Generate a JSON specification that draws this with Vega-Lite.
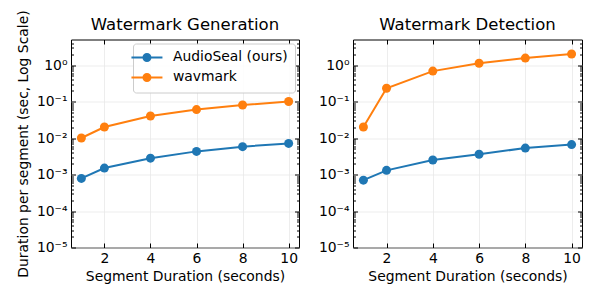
{
  "$schema": "https://vega.github.io/schema/vega-lite/v6.json",
  "padding": {"left": 15, "top": 8.5, "right": 5, "bottom": 5},
  "config": {
    "font": "DejaVu Sans",
    "view": {"stroke": "#000000", "strokeWidth": 1},
    "axis": {
      "labelFont": "DejaVu Sans", "labelFontSize": 13.9, "labelColor": "#000000",
      "titleFont": "DejaVu Sans", "titleFontSize": 13.9, "titleFontWeight": "normal", "titleColor": "#000000",
      "tickColor": "#000000", "tickWidth": 1, "domain": false,
      "gridColor": "#e8e8e8", "gridWidth": 0.8
    },
    "title": {"font": "DejaVu Sans", "fontSize": 16.5, "fontWeight": "normal", "color": "#000000", "frame": "group"},
    "legend": {
      "labelFont": "DejaVu Sans", "labelFontSize": 13.9, "labelColor": "#000000",
      "fillColor": "rgba(255,255,255,0.85)", "strokeColor": "#cccccc", "cornerRadius": 3,
      "padding": 7
    }
  },
  "data": {"values": [
    {"panel": "gen", "method": "AudioSeal (ours)", "x": 1, "y": 0.00078},
    {"panel": "gen", "method": "AudioSeal (ours)", "x": 2, "y": 0.0015},
    {"panel": "gen", "method": "AudioSeal (ours)", "x": 4, "y": 0.0028},
    {"panel": "gen", "method": "AudioSeal (ours)", "x": 6, "y": 0.0043},
    {"panel": "gen", "method": "AudioSeal (ours)", "x": 8, "y": 0.0058},
    {"panel": "gen", "method": "AudioSeal (ours)", "x": 10, "y": 0.0071},
    {"panel": "gen", "method": "wavmark", "x": 1, "y": 0.01},
    {"panel": "gen", "method": "wavmark", "x": 2, "y": 0.02},
    {"panel": "gen", "method": "wavmark", "x": 4, "y": 0.04},
    {"panel": "gen", "method": "wavmark", "x": 6, "y": 0.06},
    {"panel": "gen", "method": "wavmark", "x": 8, "y": 0.08},
    {"panel": "gen", "method": "wavmark", "x": 10, "y": 0.1},
    {"panel": "det", "method": "AudioSeal (ours)", "x": 1, "y": 0.0007},
    {"panel": "det", "method": "AudioSeal (ours)", "x": 2, "y": 0.0013},
    {"panel": "det", "method": "AudioSeal (ours)", "x": 4, "y": 0.0025},
    {"panel": "det", "method": "AudioSeal (ours)", "x": 6, "y": 0.0036},
    {"panel": "det", "method": "AudioSeal (ours)", "x": 8, "y": 0.0053},
    {"panel": "det", "method": "AudioSeal (ours)", "x": 10, "y": 0.0066},
    {"panel": "det", "method": "wavmark", "x": 1, "y": 0.02},
    {"panel": "det", "method": "wavmark", "x": 2, "y": 0.23},
    {"panel": "det", "method": "wavmark", "x": 4, "y": 0.68},
    {"panel": "det", "method": "wavmark", "x": 6, "y": 1.12},
    {"panel": "det", "method": "wavmark", "x": 8, "y": 1.55},
    {"panel": "det", "method": "wavmark", "x": 10, "y": 2.0}
  ]},
  "spacing": 17,
  "resolve": {"scale": {"color": "independent"}},
  "hconcat": [
    {
      "width": 228, "height": 208,
      "title": {"text": "Watermark Generation", "offset": -23.5},
      "transform": [{"filter": "datum.panel == 'gen'"}],
      "resolve": {"axis": {"x": "independent", "y": "independent"}},
      "layer": [
        {
          "mark": {"type": "line", "strokeWidth": 2, "point": {"filled": true, "size": 81, "opacity": 1}},
          "encoding": {
            "x": {"field": "x", "type": "quantitative",
                  "scale": {"domain": [0.55, 10.45], "nice": false, "zero": false},
                  "axis": {"orient": "bottom", "title": "Segment Duration (seconds)", "values": [2, 4, 6, 8, 10], "tickSize": -4.5, "labelPadding": 8.5, "titlePadding": 4.5, "grid": true}},
            "y": {"field": "y", "type": "quantitative",
                  "scale": {"type": "log", "domain": [0.00001, 5], "nice": false},
                  "axis": {"orient": "left", "title": "Duration per segment (sec, Log Scale)",
                           "values": [0.00001, 0.00002, 0.00003, 0.00004, 0.00005, 0.00006, 0.00007, 0.00008, 0.00009, 0.0001, 0.0002, 0.0003, 0.0004, 0.0005, 0.0006, 0.0007, 0.0008, 0.0009, 0.001, 0.002, 0.003, 0.004, 0.005, 0.006, 0.007, 0.008, 0.009, 0.01, 0.02, 0.03, 0.04, 0.05, 0.06, 0.07, 0.08, 0.09, 0.1, 0.2, 0.3, 0.4, 0.5, 0.6, 0.7, 0.8, 0.9, 1, 2, 3, 4],
                           "labelExpr": "datum.value == 1 ? '10⁰' : datum.value == 0.1 ? '10⁻¹' : datum.value == 0.01 ? '10⁻²' : datum.value == 0.001 ? '10⁻³' : datum.value == 0.0001 ? '10⁻⁴' : datum.value == 0.00001 ? '10⁻⁵' : ''",
                           "labelOverlap": false, "labelBound": false,
                           "tickSize": {"condition": {"test": "indexof([1, 0.1, 0.01, 0.001, 0.0001, 0.00001], datum.value) >= 0", "value": -4.5}, "value": -2.5},
                           "gridOpacity": {"condition": {"test": "indexof([1, 0.1, 0.01, 0.001, 0.0001, 0.00001], datum.value) >= 0", "value": 1}, "value": 0},
                           "labelPadding": 8.5, "titlePadding": 6, "grid": true}},
            "color": {"field": "method", "type": "nominal",
                      "scale": {"domain": ["AudioSeal (ours)", "wavmark"], "range": ["#1f77b4", "#ff7f0e"]},
                      "legend": {"title": null, "orient": "top-right", "offset": 4,
                                 "symbolType": "M-3.1,0L3.1,0M-0.7,0A0.7,0.7,0,1,1,0.7,0A0.7,0.7,0,1,1,-0.7,0Z",
                                 "symbolSize": 100, "symbolStrokeWidth": 2, "rowPadding": 4, "labelOffset": 19,
                                 "encode": {"symbols": {"update": {
                                   "fill": {"signal": "datum.value == 'wavmark' ? '#ff7f0e' : '#1f77b4'"},
                                   "stroke": {"signal": "datum.value == 'wavmark' ? '#ff7f0e' : '#1f77b4'"},
                                   "strokeWidth": {"value": 2},
                                   "opacity": {"value": 1}
                                 }}}}}
          }
        },
        {
          "mark": {"type": "line", "opacity": 0},
          "encoding": {
            "x": {"field": "x", "type": "quantitative",
                  "scale": {"domain": [0.55, 10.45], "nice": false, "zero": false},
                  "axis": {"orient": "top", "title": null, "labels": false, "values": [2, 4, 6, 8, 10], "tickSize": -4.5, "grid": false}},
            "y": {"field": "y", "type": "quantitative",
                  "scale": {"type": "log", "domain": [0.00001, 5], "nice": false},
                  "axis": {"orient": "right", "title": null, "labels": false, "grid": false,
                           "values": [0.00001, 0.00002, 0.00003, 0.00004, 0.00005, 0.00006, 0.00007, 0.00008, 0.00009, 0.0001, 0.0002, 0.0003, 0.0004, 0.0005, 0.0006, 0.0007, 0.0008, 0.0009, 0.001, 0.002, 0.003, 0.004, 0.005, 0.006, 0.007, 0.008, 0.009, 0.01, 0.02, 0.03, 0.04, 0.05, 0.06, 0.07, 0.08, 0.09, 0.1, 0.2, 0.3, 0.4, 0.5, 0.6, 0.7, 0.8, 0.9, 1, 2, 3, 4],
                           "tickSize": {"condition": {"test": "indexof([1, 0.1, 0.01, 0.001, 0.0001, 0.00001], datum.value) >= 0", "value": -4.5}, "value": -2.5}}},
            "detail": {"field": "method"}
          }
        }
      ]
    },
    {
      "width": 229, "height": 208,
      "title": {"text": "Watermark Detection", "offset": 2.5},
      "transform": [{"filter": "datum.panel == 'det'"}],
      "resolve": {"axis": {"x": "independent", "y": "independent"}},
      "layer": [
        {
          "mark": {"type": "line", "strokeWidth": 2, "point": {"filled": true, "size": 81, "opacity": 1}},
          "encoding": {
            "x": {"field": "x", "type": "quantitative",
                  "scale": {"domain": [0.55, 10.45], "nice": false, "zero": false},
                  "axis": {"orient": "bottom", "title": "Segment Duration (seconds)", "values": [2, 4, 6, 8, 10], "tickSize": -4.5, "labelPadding": 8.5, "titlePadding": 4.5, "grid": true}},
            "y": {"field": "y", "type": "quantitative",
                  "scale": {"type": "log", "domain": [0.00001, 5], "nice": false},
                  "axis": {"orient": "left", "title": null,
                           "values": [0.00001, 0.00002, 0.00003, 0.00004, 0.00005, 0.00006, 0.00007, 0.00008, 0.00009, 0.0001, 0.0002, 0.0003, 0.0004, 0.0005, 0.0006, 0.0007, 0.0008, 0.0009, 0.001, 0.002, 0.003, 0.004, 0.005, 0.006, 0.007, 0.008, 0.009, 0.01, 0.02, 0.03, 0.04, 0.05, 0.06, 0.07, 0.08, 0.09, 0.1, 0.2, 0.3, 0.4, 0.5, 0.6, 0.7, 0.8, 0.9, 1, 2, 3, 4],
                           "labelExpr": "datum.value == 1 ? '10⁰' : datum.value == 0.1 ? '10⁻¹' : datum.value == 0.01 ? '10⁻²' : datum.value == 0.001 ? '10⁻³' : datum.value == 0.0001 ? '10⁻⁴' : datum.value == 0.00001 ? '10⁻⁵' : ''",
                           "labelOverlap": false, "labelBound": false,
                           "tickSize": {"condition": {"test": "indexof([1, 0.1, 0.01, 0.001, 0.0001, 0.00001], datum.value) >= 0", "value": -4.5}, "value": -2.5},
                           "gridOpacity": {"condition": {"test": "indexof([1, 0.1, 0.01, 0.001, 0.0001, 0.00001], datum.value) >= 0", "value": 1}, "value": 0},
                           "labelPadding": 8.5, "grid": true}},
            "color": {"field": "method", "type": "nominal",
                      "scale": {"domain": ["AudioSeal (ours)", "wavmark"], "range": ["#1f77b4", "#ff7f0e"]},
                      "legend": null}
          }
        },
        {
          "mark": {"type": "line", "opacity": 0},
          "encoding": {
            "x": {"field": "x", "type": "quantitative",
                  "scale": {"domain": [0.55, 10.45], "nice": false, "zero": false},
                  "axis": {"orient": "top", "title": null, "labels": false, "values": [2, 4, 6, 8, 10], "tickSize": -4.5, "grid": false}},
            "y": {"field": "y", "type": "quantitative",
                  "scale": {"type": "log", "domain": [0.00001, 5], "nice": false},
                  "axis": {"orient": "right", "title": null, "labels": false, "grid": false,
                           "values": [0.00001, 0.00002, 0.00003, 0.00004, 0.00005, 0.00006, 0.00007, 0.00008, 0.00009, 0.0001, 0.0002, 0.0003, 0.0004, 0.0005, 0.0006, 0.0007, 0.0008, 0.0009, 0.001, 0.002, 0.003, 0.004, 0.005, 0.006, 0.007, 0.008, 0.009, 0.01, 0.02, 0.03, 0.04, 0.05, 0.06, 0.07, 0.08, 0.09, 0.1, 0.2, 0.3, 0.4, 0.5, 0.6, 0.7, 0.8, 0.9, 1, 2, 3, 4],
                           "tickSize": {"condition": {"test": "indexof([1, 0.1, 0.01, 0.001, 0.0001, 0.00001], datum.value) >= 0", "value": -4.5}, "value": -2.5}}},
            "detail": {"field": "method"}
          }
        }
      ]
    }
  ]
}
